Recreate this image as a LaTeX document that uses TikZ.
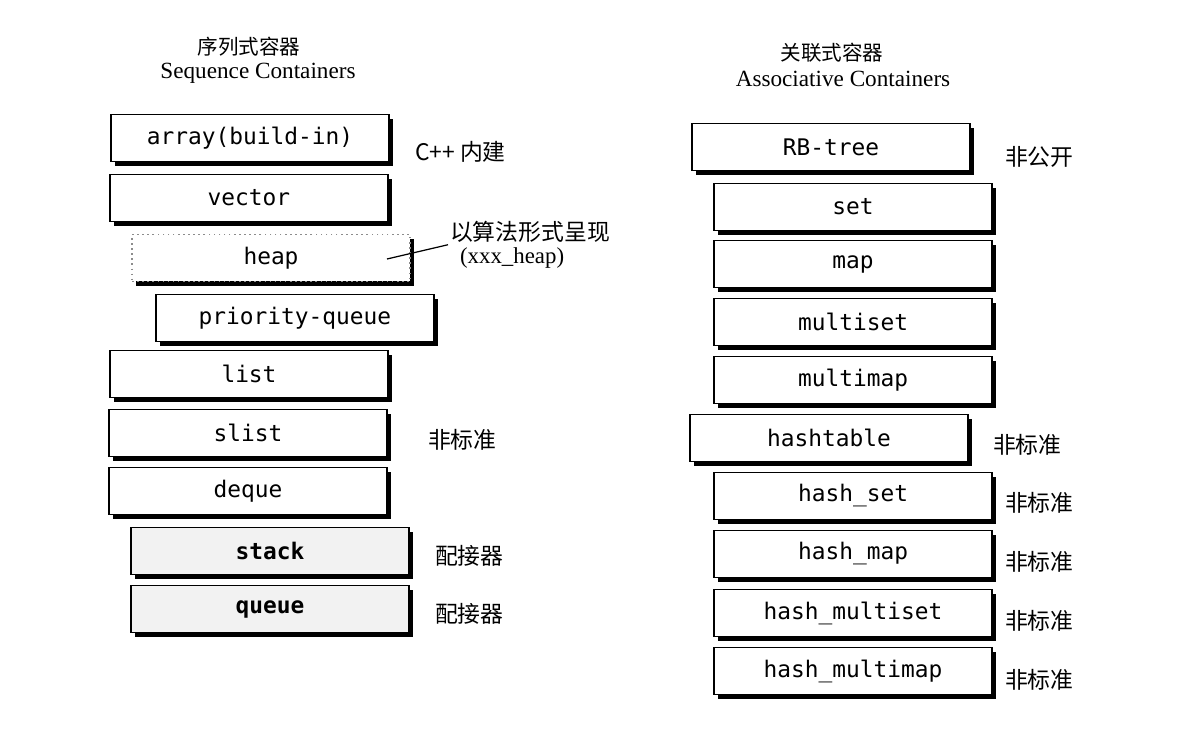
\documentclass[tikz,border=0pt]{standalone}
\usepackage{fontspec}
\setmainfont{Liberation Serif}
\setmonofont{DejaVu Sans Mono}
\newfontfamily\cjk{Noto Sans CJK SC}
\usetikzlibrary{shadows, positioning}

\begin{document}
\begin{tikzpicture}[
  x=0.02cm, y=-0.02cm,
  box/.style={draw, line width=0.9pt, fill=white, minimum width=5.56cm,
    minimum height=0.94cm, inner sep=0pt,
    font=\fontsize{13}{15}\selectfont\ttfamily,
    drop shadow={shadow xshift=2.4pt, shadow yshift=-2.4pt, fill=black, opacity=1}},
  algbox/.style={box, dotted, draw=black!45},
  adapter/.style={box, fill=black!5, font=\fontsize{13}{15}\selectfont\ttfamily\bfseries},
  note/.style={anchor=west, inner sep=1pt, font=\fontsize{13}{15}\selectfont\cjk},
  title/.style={font=\fontsize{11.7}{14}\selectfont\cjk},
  subtitle/.style={font=\fontsize{13.2}{15}\selectfont}
]
  \useasboundingbox (0,0) rectangle (1180,732);

  % sequence containers
  \node[title]    (seqcn) at (249,47) {序列式容器};
  \node[subtitle] (seqen) at (258,73) {Sequence Containers};

  \node[box]     (array)  at (250,138) {array(build-in)};
  \node[box]     (vector) at (249,198) {vector};
  \node[algbox]  (heap)   at (271,258) {heap};
  \node[box]     (pq)     at (295,318) {priority-queue};
  \node[box]     (list)   at (249,374) {list};
  \node[box]     (slist)  at (248,433) {slist};
  \node[box]     (deque)  at (248,491) {deque};
  \node[adapter] (stack)  at (270,551) {stack};
  \node[adapter] (queue)  at (270,609) {queue};

  \node[note] (builtin)   at (413,152) {C++ 内建};
  \node[note] (alg)       at (448,232) {以算法形式呈现};
  \node[note, font=\fontsize{13}{15}\selectfont] (algname) at (458,258) {(xxx\_heap)};
  \node[note] (slistns)   at (426,440) {非标准};
  \node[note] (stackad)   at (433,556) {配接器};
  \node[note] (queuead)   at (433,614) {配接器};

  \coordinate (heaptip) at (387,259);
  \draw[line width=0.7pt] (heaptip) -- (alg.south west);

  % associative containers
  \node[title]    (asscn) at (832,53) {关联式容器};
  \node[subtitle] (assen) at (843,79) {Associative Containers};

  \node[box] (rbtree)       at (831,147) {RB-tree};
  \node[box] (set)          at (853,207) {set};
  \node[box] (map)          at (853,264) {map};
  \node[box] (multiset)     at (853,322) {multiset};
  \node[box] (multimap)     at (853,380) {multimap};
  \node[box] (hashtable)    at (829,438) {hashtable};
  \node[box] (hashset)      at (853,496) {hash\_set};
  \node[box] (hashmap)      at (853,554) {hash\_map};
  \node[box] (hashmultiset) at (853,613) {hash\_multiset};
  \node[box] (hashmultimap) at (853,671) {hash\_multimap};

  \node[note] (rbpriv)  at (1003,157) {非公开};
  \node[note] (htns)    at (991,445)  {非标准};
  \node[note] (hsns)    at (1003,503) {非标准};
  \node[note] (hmns)    at (1003,562) {非标准};
  \node[note] (hmsns)   at (1003,621) {非标准};
  \node[note] (hmmns)   at (1003,680) {非标准};
\end{tikzpicture}
\end{document}
